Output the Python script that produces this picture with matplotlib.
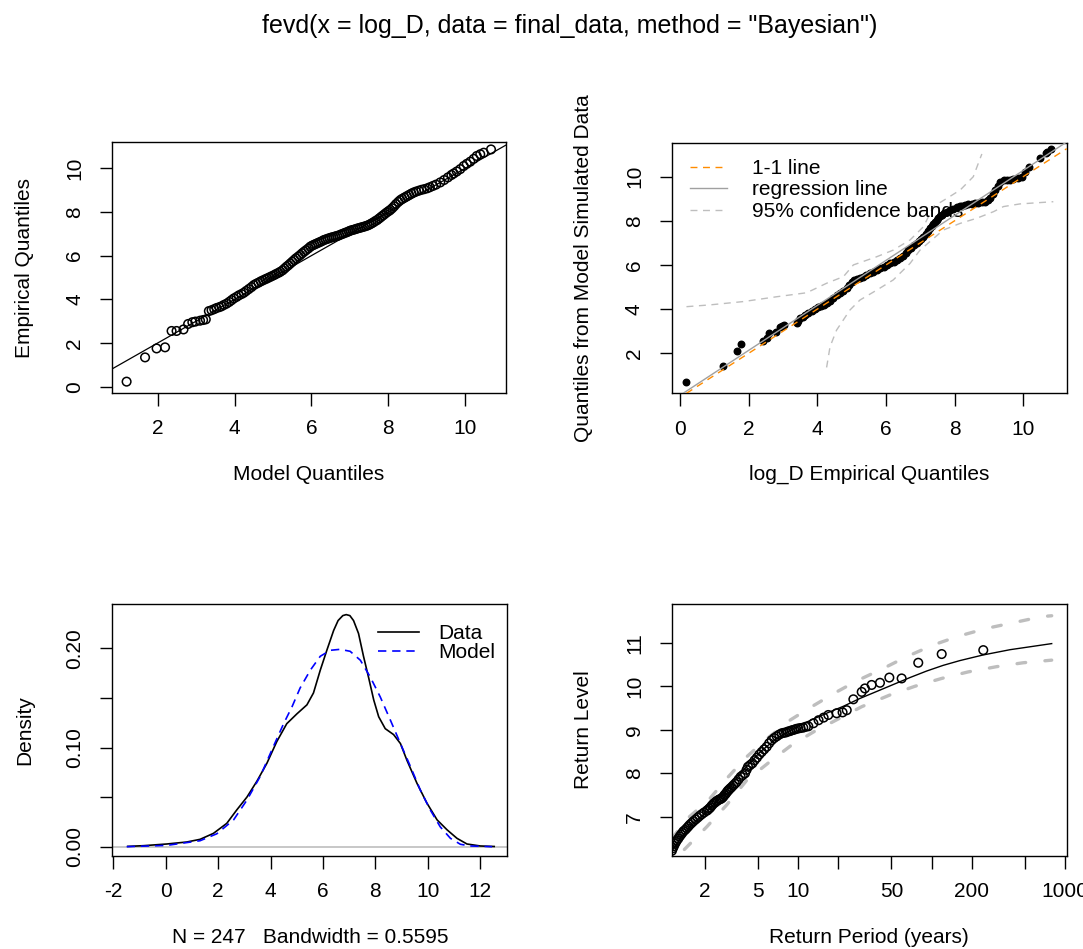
import matplotlib
matplotlib.use("Agg")
import matplotlib.pyplot as plt
from matplotlib.ticker import NullLocator
import numpy as np

plt.rcParams['font.family'] = ['Liberation Sans', 'DejaVu Sans']
plt.rcParams['font.size'] = 15
plt.rcParams['axes.unicode_minus'] = False

title = 'fevd(x = log_D, data = final_data, method = "Bayesian")'

# --- qq-plot: model quantiles vs empirical quantiles
model_q = [1.19, 1.67, 1.97, 2.19, 2.36, 2.49, 2.67, 2.79, 2.90, 2.98, 3.10, 3.18, 3.25, 3.33,
           3.40, 3.47, 3.53, 3.60, 3.66, 3.72, 3.79, 3.86, 3.92, 3.98, 4.05, 4.11, 4.18, 4.24,
           4.30, 4.37, 4.44, 4.50, 4.56, 4.62, 4.68, 4.74, 4.80, 4.85, 4.91, 4.97, 5.03, 5.08,
           5.14, 5.19, 5.25, 5.30, 5.35, 5.40, 5.45, 5.50, 5.55, 5.60, 5.66, 5.71, 5.76, 5.81,
           5.86, 5.92, 5.97, 6.02, 6.07, 6.12, 6.17, 6.22, 6.27, 6.32, 6.37, 6.42, 6.47, 6.52,
           6.57, 6.62, 6.67, 6.72, 6.77, 6.82, 6.87, 6.92, 6.97, 7.01, 7.06, 7.11, 7.16, 7.21,
           7.26, 7.31, 7.36, 7.41, 7.46, 7.51, 7.56, 7.61, 7.66, 7.71, 7.76, 7.81, 7.86, 7.91,
           7.96, 8.01, 8.05, 8.10, 8.15, 8.20, 8.26, 8.31, 8.36, 8.42, 8.48, 8.54, 8.60, 8.66,
           8.72, 8.79, 8.86, 8.93, 9.01, 9.08, 9.16, 9.24, 9.35, 9.45, 9.55, 9.64, 9.70, 9.78,
           9.87, 9.96, 10.04, 10.13, 10.22, 10.30, 10.39, 10.48, 10.67]
emp_q = [0.23, 1.34, 1.75, 1.80, 2.55, 2.55, 2.62, 2.87, 2.95, 2.98, 3.02, 3.05, 3.08, 3.46,
         3.50, 3.55, 3.60, 3.64, 3.68, 3.74, 3.80, 3.88, 3.96, 4.04, 4.11, 4.18, 4.24, 4.30,
         4.38, 4.47, 4.56, 4.65, 4.71, 4.76, 4.82, 4.87, 4.92, 4.96, 5.01, 5.06, 5.11, 5.16,
         5.21, 5.26, 5.33, 5.41, 5.49, 5.56, 5.64, 5.72, 5.80, 5.88, 5.96, 6.03, 6.11, 6.18,
         6.25, 6.33, 6.41, 6.46, 6.50, 6.54, 6.58, 6.62, 6.66, 6.71, 6.74, 6.77, 6.80, 6.83,
         6.85, 6.88, 6.90, 6.93, 6.97, 7.00, 7.04, 7.07, 7.11, 7.14, 7.17, 7.19, 7.22, 7.25,
         7.27, 7.30, 7.32, 7.35, 7.38, 7.42, 7.47, 7.52, 7.58, 7.63, 7.70, 7.77, 7.84, 7.91,
         7.98, 8.04, 8.09, 8.17, 8.26, 8.36, 8.46, 8.54, 8.60, 8.66, 8.72, 8.78, 8.84, 8.89,
         8.93, 8.97, 9.01, 9.04, 9.08, 9.13, 9.19, 9.25, 9.35, 9.46, 9.58, 9.69, 9.76, 9.85,
         9.96, 10.10, 10.20, 10.30, 10.43, 10.56, 10.64, 10.71, 10.86]

# --- empirical quantiles vs quantiles from model simulated data
sim_x = [0.17, 1.26, 1.67, 1.78, 2.43, 2.52, 2.60, 2.80, 2.91, 2.97, 3.03, 3.40, 3.45, 3.50,
         3.57, 3.64, 3.74, 3.84, 3.93, 4.03, 4.10, 4.18, 4.27, 4.36, 4.46, 4.56, 4.66, 4.75,
         4.85, 4.92, 5.00, 5.08, 5.16, 5.24, 5.34, 5.43, 5.53, 5.63, 5.73, 5.83, 5.93, 6.02,
         6.12, 6.22, 6.31, 6.41, 6.49, 6.57, 6.65, 6.73, 6.81, 6.89, 6.96, 7.03, 7.09, 7.16,
         7.22, 7.28, 7.33, 7.38, 7.43, 7.48, 7.52, 7.57, 7.64, 7.70, 7.77, 7.87, 7.96, 8.06,
         8.14, 8.22, 8.30, 8.40, 8.50, 8.59, 8.69, 8.78, 8.88, 8.96, 9.03, 9.10, 9.17, 9.25,
         9.32, 9.42, 9.52, 9.62, 9.71, 9.83, 9.95, 10.05, 10.15, 10.49, 10.65, 10.70, 10.80]
sim_y = [0.72, 1.44, 2.12, 2.42, 2.57, 2.70, 2.90, 2.98, 3.21, 3.25, 3.28, 3.36, 3.47, 3.58,
         3.66, 3.72, 3.81, 3.90, 4.02, 4.11, 4.15, 4.20, 4.26, 4.38, 4.52, 4.64, 4.74, 4.84,
         4.94, 5.08, 5.24, 5.30, 5.35, 5.39, 5.47, 5.55, 5.62, 5.70, 5.77, 5.84, 5.92, 6.00,
         6.07, 6.15, 6.22, 6.30, 6.42, 6.55, 6.67, 6.78, 6.88, 6.98, 7.08, 7.18, 7.28, 7.40,
         7.53, 7.65, 7.75, 7.86, 7.96, 8.05, 8.13, 8.21, 8.28, 8.35, 8.41, 8.48, 8.55, 8.61,
         8.65, 8.68, 8.71, 8.74, 8.77, 8.79, 8.81, 8.84, 8.86, 8.93, 9.01, 9.20, 9.39, 9.58,
         9.77, 9.84, 9.85, 9.86, 9.87, 9.93, 9.99, 10.20, 10.42, 10.83, 11.08, 11.13, 11.23]

band_lo_x = [4.27, 4.37, 4.56, 4.95, 5.24, 5.73, 6.21, 6.70, 6.99, 7.67, 8.16, 8.64, 9.13,
             9.42, 9.90, 10.87]
band_lo_y = [1.36, 2.30, 3.05, 3.96, 4.41, 4.86, 5.32, 6.07, 6.67, 7.58, 7.88, 8.11, 8.41,
             8.64, 8.76, 8.86]
band_hi_x = [0.19, 0.87, 1.84, 2.82, 3.69, 4.27, 4.76, 5.05, 5.73, 6.21, 6.70, 7.09, 7.38,
             7.77, 8.16, 8.54, 8.76, 8.79]
band_hi_y = [4.11, 4.19, 4.34, 4.56, 4.74, 5.17, 5.47, 6.00, 6.37, 6.67, 7.13, 7.73, 8.64,
             9.01, 9.39, 9.99, 10.90, 11.02]

# --- density plot
dens_x = [-1.45, -0.85, 0.04, 0.80, 1.31, 1.82, 2.33, 2.71, 3.10, 3.48, 3.86, 4.24, 4.62,
          5.01, 5.39, 5.64, 5.90, 6.15, 6.41, 6.58, 6.76, 6.89, 7.03, 7.17, 7.36, 7.55, 7.75,
          7.94, 8.13, 8.38, 8.70, 8.96, 9.21, 9.59, 9.97, 10.36, 10.74, 11.12, 11.50, 12.01,
          12.54]
dens_y = [0.0003, 0.0010, 0.0027, 0.0047, 0.0074, 0.0134, 0.0235, 0.037, 0.050, 0.066,
          0.084, 0.106, 0.124, 0.134, 0.143, 0.155, 0.178, 0.198, 0.218, 0.228, 0.233, 0.234,
          0.233, 0.228, 0.215, 0.192, 0.170, 0.148, 0.131, 0.119, 0.113, 0.104, 0.087, 0.064,
          0.044, 0.027, 0.017, 0.0084, 0.0027, 0.0007, 0.0002]
model_x = [-1.49, 0.04, 1.31, 1.95, 2.59, 3.10, 3.61, 4.11, 4.50, 4.82, 5.13, 5.52, 5.90,
           6.28, 6.66, 7.04, 7.43, 7.81, 8.19, 8.57, 8.96, 9.34, 9.72, 10.10, 10.48, 10.87,
           11.25, 11.63, 12.46]
model_y = [0.000, 0.0013, 0.006, 0.013, 0.027, 0.047, 0.071, 0.101, 0.124, 0.141, 0.160,
           0.178, 0.192, 0.198, 0.199, 0.197, 0.188, 0.171, 0.151, 0.128, 0.104, 0.081,
           0.057, 0.037, 0.020, 0.0084, 0.0024, 0.0007, 0.0]
n_obs = 247
bandwidth = 0.5595

# --- return level plot
rp_emp = [1.13, 1.15, 1.17, 1.19, 1.21, 1.23, 1.26, 1.29, 1.32, 1.35, 1.38, 1.42, 1.46, 1.50,
          1.54, 1.59, 1.64, 1.70, 1.76, 1.82, 1.89, 1.97, 2.06, 2.10, 2.15, 2.20, 2.25, 2.31,
          2.38, 2.44, 2.50, 2.56, 2.62, 2.68, 2.74, 2.80, 2.86, 2.92, 2.97, 3.02, 3.08, 3.16,
          3.25, 3.35, 3.45, 3.57, 3.70, 3.84, 3.99, 4.10, 4.20, 4.36, 4.53, 4.71, 4.90, 5.10,
          5.32, 5.55, 5.80, 6.05, 6.32, 6.60, 6.90, 7.20, 7.52, 7.80, 8.10, 8.38, 8.67, 8.97,
          9.30, 9.65, 10.0, 10.4, 10.9, 11.4, 11.9, 13.0, 14.2, 15.5, 16.8, 19.4, 21.5, 23.1,
          25.9, 29.9, 31.6, 35.5, 41.0, 48.2, 59.6, 79.4, 119, 244]
rl_emp = [6.22, 6.28, 6.33, 6.38, 6.42, 6.46, 6.50, 6.55, 6.59, 6.63, 6.67, 6.70, 6.74, 6.78,
          6.82, 6.86, 6.90, 6.94, 6.98, 7.02, 7.06, 7.10, 7.14, 7.16, 7.19, 7.22, 7.26, 7.30,
          7.33, 7.36, 7.38, 7.40, 7.41, 7.43, 7.46, 7.50, 7.53, 7.57, 7.60, 7.62, 7.65, 7.68,
          7.72, 7.76, 7.80, 7.86, 7.92, 7.96, 8.00, 8.08, 8.15, 8.19, 8.23, 8.30, 8.36, 8.43,
          8.49, 8.55, 8.61, 8.69, 8.76, 8.81, 8.85, 8.89, 8.92, 8.93, 8.94, 8.96, 8.97, 8.99,
          9.00, 9.02, 9.03, 9.04, 9.05, 9.07, 9.08, 9.15, 9.22, 9.28, 9.34, 9.38, 9.40, 9.45,
          9.70, 9.87, 9.95, 10.03, 10.08, 10.20, 10.18, 10.54, 10.74, 10.83]
rp_fit = [1.12, 1.16, 1.30, 1.64, 2.18, 2.91, 3.87, 5.17, 6.89, 9.19, 12.2, 16.3, 21.8, 29.0,
          38.7, 51.6, 68.8, 91.8, 122, 163, 244, 387, 795]
rl_fit = [6.20, 6.27, 6.50, 6.85, 7.19, 7.61, 8.07, 8.49, 8.80, 9.03, 9.21, 9.38, 9.54, 9.72,
          9.88, 10.04, 10.20, 10.35, 10.48, 10.59, 10.72, 10.84, 10.98]
rp_hi = [1.13, 1.46, 2.12, 2.99, 4.11, 5.64, 8.67, 12.6, 19.4, 28.2, 43.4, 65, 103, 159, 258,
         410, 668, 795]
rl_hi = [6.50, 6.95, 7.38, 7.92, 8.38, 8.76, 9.22, 9.53, 9.87, 10.14, 10.41, 10.68, 10.95,
         11.15, 11.33, 11.46, 11.60, 11.62]
rp_lo = [1.40, 2.06, 2.90, 4.11, 6.32, 8.93, 13.0, 20.0, 29.9, 48.7, 75, 119, 188, 307, 486,
         795]
rl_lo = [6.25, 6.77, 7.27, 7.84, 8.30, 8.65, 8.95, 9.25, 9.53, 9.80, 10.00, 10.18, 10.33,
         10.45, 10.54, 10.60]

GRAY = '#BEBEBE'
W, H = 1083, 949


def make_axes(fig, left, top, right, bottom):
    ax = fig.add_axes([left / W, 1 - bottom / H, (right - left) / W, (bottom - top) / H])
    for sp in ax.spines.values():
        sp.set_linewidth(1.0)
    ax.tick_params(direction='out', length=9, width=1.0, labelsize=15)
    ax.tick_params(axis='x', pad=10)
    ax.tick_params(axis='y', pad=11)
    return ax


def finish(ax, xlabel, ylabel):
    ax.set_xlabel(xlabel, fontsize=15)
    ax.set_ylabel(ylabel, fontsize=15)
    ax.xaxis.set_label_coords(0.5, -0.285)
    ax.yaxis.set_label_coords(-0.198, 0.5)
    for lab in ax.get_yticklabels():
        lab.set_rotation(90)
        lab.set_va('center')


fig = plt.figure(figsize=(W / 100, H / 100), dpi=100)
fig.text(570 / W, 1 - 26 / H, title, ha='center', va='center', fontsize=18)

# top left: qq plot
ax1 = make_axes(fig, 112, 142, 506, 393)
ax1.scatter(model_q, emp_q, s=38, facecolors='none', edgecolors='black', linewidths=1.1, zorder=3)
ax1.axline((0, 0), slope=1, color='black', lw=0.9)
ax1.set_xlim(0.81, 11.06)
ax1.set_ylim(-0.29, 11.2)
ax1.set_xticks([2, 4, 6, 8, 10])
ax1.set_yticks([0, 2, 4, 6, 8, 10])
finish(ax1, 'Model Quantiles', 'Empirical Quantiles')

# top right: simulated data qq plot
ax2 = make_axes(fig, 671.7, 142.7, 1066.7, 393.3)
slope, icpt = np.polyfit(sim_x, sim_y, 1)
ax2.plot(band_hi_x, band_hi_y, color=GRAY, lw=1, dashes=(5, 4))
ax2.plot(band_lo_x, band_lo_y, color=GRAY, lw=1, dashes=(5, 4))
ax2.scatter(sim_x, sim_y, s=22, color='black', zorder=3)
ax2.axline((0, icpt), slope=slope, color='#A0A0A0', lw=1, zorder=4)
ax2.axline((0, 0), slope=1, color='darkorange', lw=1, dashes=(5, 4), zorder=5)
ax2.plot([], [], color='darkorange', lw=1, dashes=(5, 4), label='1-1 line')
ax2.plot([], [], color='#A0A0A0', lw=1, label='regression line')
ax2.plot([], [], color=GRAY, lw=1, dashes=(5, 4), label='95% confidence bands')
leg = ax2.legend(loc='upper left', bbox_to_anchor=(0.046, 0.935), frameon=False, borderpad=0,
                 borderaxespad=0, handlelength=1.8, handletextpad=1.2, labelspacing=0.12,
                 fontsize=15)
leg.set_zorder(2)
ax2.set_xlim(-0.24, 11.26)
ax2.set_ylim(0.19, 11.53)
ax2.set_xticks([0, 2, 4, 6, 8, 10])
ax2.set_yticks([2, 4, 6, 8, 10])
finish(ax2, 'log_D Empirical Quantiles', 'Quantiles from Model Simulated Data')

# bottom left: density
ax3 = make_axes(fig, 112.3, 604, 507.3, 856)
ax3.axhline(0, color=GRAY, lw=1.2)
ax3.plot(dens_x, dens_y, color='black', lw=1.2, label='Data')
ax3.plot(model_x, model_y, color='blue', lw=1.2, dashes=(5, 3.5), label='Model')
ax3.legend(loc='upper left', bbox_to_anchor=(0.673, 0.92), frameon=False, borderpad=0,
           borderaxespad=0, handlelength=1.95, handletextpad=0.95, labelspacing=0.0,
           fontsize=15)
ax3.set_xlim(-2.04, 13.04)
ax3.set_ylim(-0.0094, 0.2447)
ax3.set_xticks([-2, 0, 2, 4, 6, 8, 10, 12])
ax3.set_yticks([0, 0.05, 0.10, 0.15, 0.20])
ax3.set_yticklabels(['0.00', '', '0.10', '', '0.20'])
finish(ax3, 'N = %d   Bandwidth = %.4f' % (n_obs, bandwidth), 'Density')

# bottom right: return levels
ax4 = make_axes(fig, 671.7, 604, 1066.7, 856)
ax4.set_xscale('log')
ax4.plot(rp_hi, rl_hi, color=GRAY, lw=2.4, dashes=(2.6, 5.8), dash_capstyle='round')
ax4.plot(rp_lo, rl_lo, color=GRAY, lw=2.4, dashes=(2.6, 5.8), dash_capstyle='round')
ax4.plot(rp_fit, rl_fit, color='black', lw=1.0)
ax4.scatter(rp_emp, rl_emp, s=38, facecolors='none', edgecolors='black', linewidths=1.1,
            zorder=3)
ax4.set_xlim(1.125, 1030)
ax4.set_ylim(6.10, 11.89)
ax4.xaxis.set_minor_locator(NullLocator())
ax4.set_xticks([2, 5, 10, 20, 50, 100, 200, 500, 1000])
ax4.set_xticklabels(['2', '5', '10', '', '50', '', '200', '', '1000'])
ax4.set_yticks([7, 8, 9, 10, 11])
finish(ax4, 'Return Period (years)', 'Return Level')

fig.savefig('out.png', dpi=100)
